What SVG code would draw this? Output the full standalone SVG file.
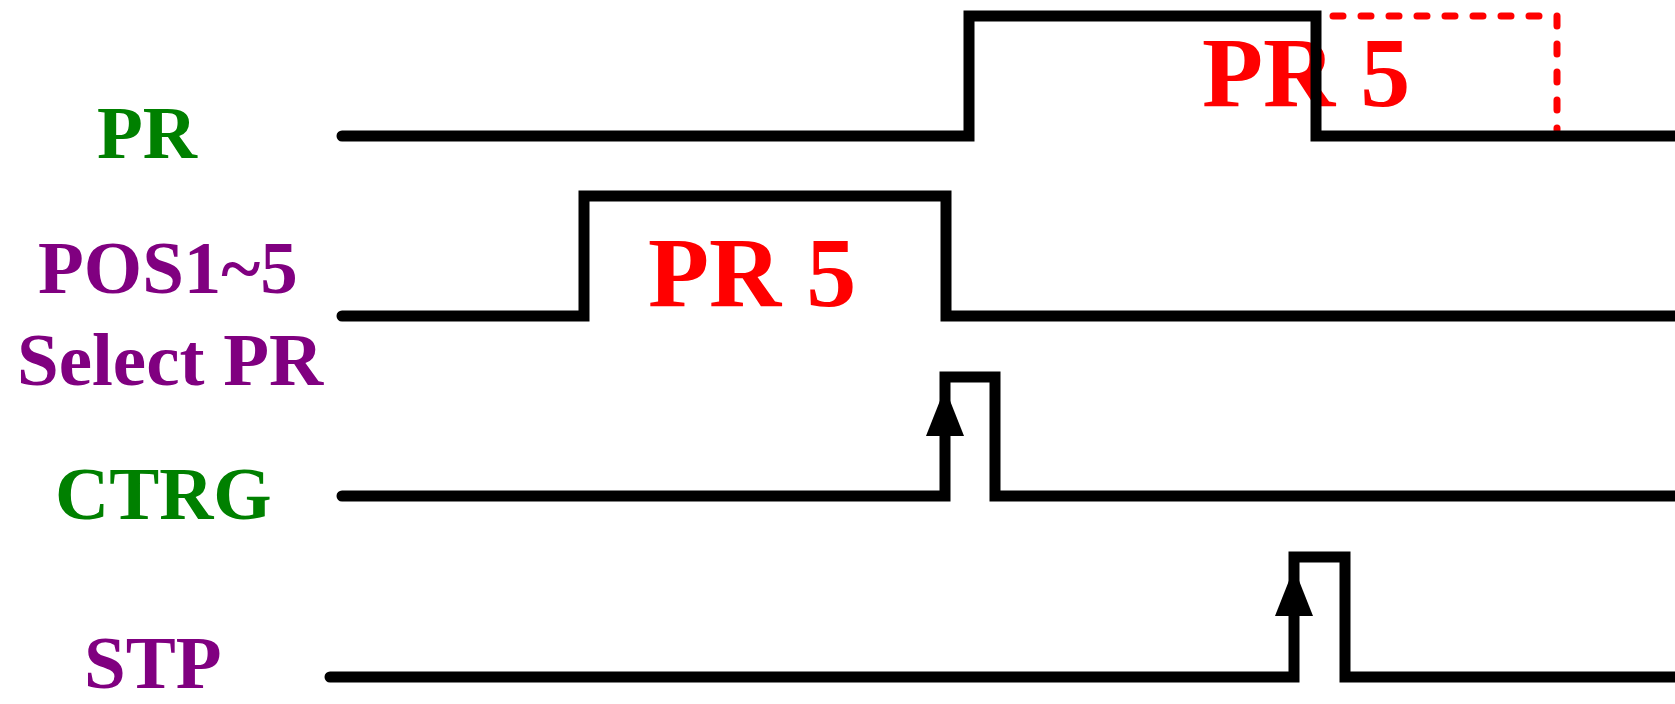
<svg xmlns="http://www.w3.org/2000/svg" width="1675" height="704" viewBox="0 0 1675 704">
<style>
.lbl{font-family:"Liberation Serif","Times New Roman",serif;font-weight:bold;font-size:75px}
.g{fill:#008000}.p{fill:#800080}
.val{font-family:"Liberation Serif","Times New Roman",serif;font-weight:bold;font-size:100px;fill:#ff0000}
.sig{fill:none;stroke:#000;stroke-width:11;stroke-linejoin:miter;stroke-linecap:round}
.dash{fill:none;stroke:#ff0000;stroke-width:7;stroke-dasharray:10 18;stroke-linecap:round}
</style>
<rect width="1675" height="704" fill="#fff"/>
<g id="label-PR"><text class="lbl g" x="97" y="158">PR</text></g>
<g id="label-POS"><text class="lbl p" x="38" y="293">POS1~5</text></g>
<g id="label-Select"><text class="lbl p" x="17" y="385">Select PR</text></g>
<g id="label-CTRG"><text class="lbl g" x="55" y="519">CTRG</text></g>
<g id="label-STP"><text class="lbl p" x="84" y="688">STP</text></g>
<g id="value-PR5-lower"><text class="val" x="648" y="306">PR 5</text></g>
<g id="value-PR5-upper"><text class="val" x="1202" y="106">PR 5</text></g>
<g id="connectors">
<path class="dash" d="M1305,16 H1557 V130"/>
<path id="sig-PR" class="sig" d="M342,136 H969 V16 H1316 V136 H1680"/>
<path id="sig-POS" class="sig" d="M342,316 H584 V196 H946 V316 H1680"/>
<path id="sig-CTRG" class="sig" d="M342,496 H945 V377 H995 V496 H1680"/>
<path id="sig-STP" class="sig" d="M330,677 H1294 V557 H1345 V677 H1680"/>
<polygon points="945,388 926,436 964,436" fill="#000"/>
<polygon points="1294,568 1275,616 1313,616" fill="#000"/>
</g>
</svg>
